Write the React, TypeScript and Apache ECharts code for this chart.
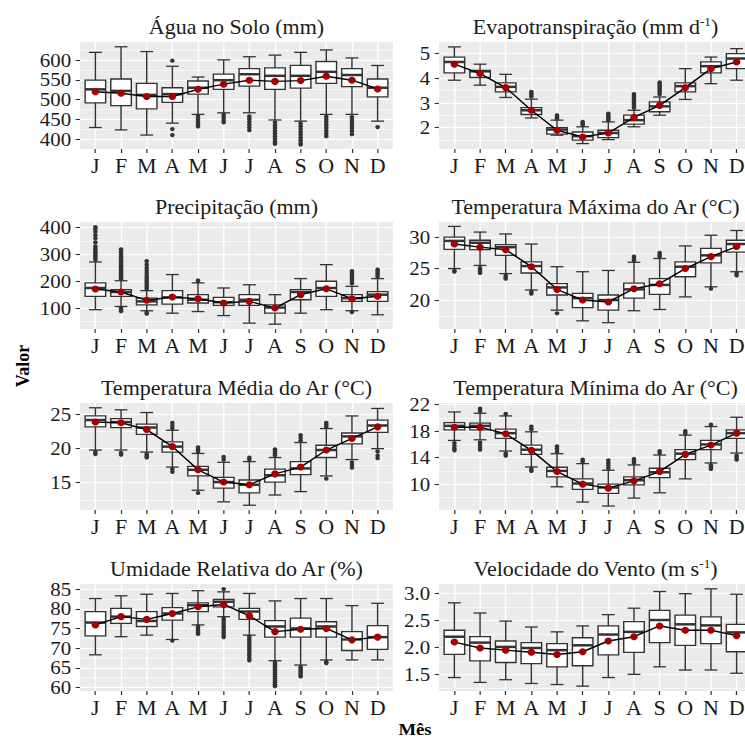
import React, { useEffect, useRef } from "react";
import * as echarts from "echarts";

// ---------- data ----------
const MONTHS = ["J", "F", "M", "A", "M", "J", "J", "A", "S", "O", "N", "D"];
const MONTH_POS = [1, 2, 3, 4, 5, 6, 7, 8, 9, 10, 11, 12];

// each stats row: [lower whisker, Q1, median, Q3, upper whisker]
const aguaStats = [
  [430, 492, 526, 549, 619], [424, 485, 522, 552, 633], [411, 477, 512, 541, 621],
  [441, 493, 514, 530, 584], [463, 514, 530, 547, 557], [467, 526, 549, 564, 600],
  [467, 534, 564, 578, 608], [449, 526, 560, 580, 612], [446, 529, 560, 586, 619],
  [463, 541, 570, 596, 625], [463, 533, 562, 578, 605], [446, 507, 530, 552, 586],
];
const aguaMeans = [520, 516, 508, 508, 526, 539, 549, 546, 548, 559, 549, 527];
const aguaOutliers = [
  [4, 598], [4, 426], [4, 411],
  [5, 459], [5, 452], [5, 445], [5, 439], [5, 433],
  [6, 462], [6, 456], [6, 449], [6, 443],
  [7, 458], [7, 451], [7, 444], [7, 437], [7, 430], [7, 423],
  [8, 443], [8, 436], [8, 429], [8, 422], [8, 415], [8, 408], [8, 401], [8, 394], [8, 389],
  [9, 440], [9, 433], [9, 426], [9, 419], [9, 412], [9, 405], [9, 398], [9, 391], [9, 387],
  [10, 457], [10, 450], [10, 443], [10, 436], [10, 429], [10, 422], [10, 415], [10, 408],
  [11, 456], [11, 449], [11, 442], [11, 435], [11, 428], [11, 421], [11, 413],
  [12, 431],
];
const aguaTicks = [400, 450, 500, 550, 600];
const aguaMinor = [425, 475, 525, 575, 625];

const evapoStats = [
  [3.92, 4.22, 4.66, 4.86, 5.27], [3.72, 4.03, 4.28, 4.32, 4.57], [3.22, 3.45, 3.65, 3.81, 4.16],
  [2.39, 2.53, 2.7, 2.81, 3.15], [1.69, 1.73, 1.92, 2.0, 2.3], [1.35, 1.49, 1.65, 1.82, 2.03],
  [1.51, 1.59, 1.78, 1.89, 2.23], [2.03, 2.14, 2.3, 2.5, 2.7], [2.5, 2.64, 2.86, 3.04, 3.24],
  [3.14, 3.45, 3.68, 3.81, 4.39], [3.78, 4.22, 4.49, 4.66, 4.86], [3.92, 4.39, 4.8, 5.0, 5.2],
];
const evapoMeans = [4.57, 4.19, 3.62, 2.7, 1.89, 1.62, 1.78, 2.41, 2.9, 3.62, 4.39, 4.66];
const evapoOutliers = [
  [4, 3.25], [4, 3.32], [4, 3.39], [4, 3.45],
  [5, 2.37], [5, 2.43], [5, 2.5],
  [6, 2.1], [6, 2.16], [6, 2.23],
  [7, 2.3], [7, 2.37], [7, 2.43], [7, 2.5], [7, 2.57],
  [8, 2.8], [8, 2.88], [8, 2.96], [8, 3.04], [8, 3.12], [8, 3.2], [8, 3.28], [8, 3.36],
  [9, 3.35], [9, 3.43], [9, 3.51], [9, 3.59], [9, 3.67], [9, 3.75], [9, 3.83],
];
const evapoTicks = [2, 3, 4, 5];
const evapoMinor = [1.5, 2.5, 3.5, 4.5];

const precStats = [
  [94, 144, 175, 194, 272], [106, 144, 160, 169, 202], [90, 112, 125, 137, 165],
  [81, 115, 140, 165, 225], [87, 119, 131, 150, 194], [72, 110, 122, 140, 175],
  [44, 110, 131, 150, 187], [40, 81, 102, 112, 150], [81, 131, 160, 169, 210],
  [94, 144, 175, 200, 262], [90, 125, 137, 150, 181], [75, 125, 150, 161, 210],
];
const precMeans = [171, 160, 129, 141, 135, 119, 125, 100, 150, 172, 135, 144];
const precOutliers = [
  [1, 280], [1, 287], [1, 294], [1, 301], [1, 308], [1, 315], [1, 322], [1, 330], [1, 345], [1, 360], [1, 372], [1, 385], [1, 395], [1, 402],
  [2, 208], [2, 214], [2, 220], [2, 226], [2, 232], [2, 238], [2, 244], [2, 250], [2, 256], [2, 262], [2, 268], [2, 274], [2, 280], [2, 290], [2, 300], [2, 310], [2, 319],
  [2, 100], [2, 94], [2, 88],
  [3, 172], [3, 180], [3, 188], [3, 196], [3, 204], [3, 212], [3, 220], [3, 230], [3, 240], [3, 250], [3, 262], [3, 275], [3, 84], [3, 79],
  [5, 200], [5, 203],
  [11, 192], [11, 200], [11, 208], [11, 216], [11, 224], [11, 232], [11, 238], [11, 85],
  [12, 217], [12, 224], [12, 231], [12, 238], [12, 244],
];
const precTicks = [100, 200, 300, 400];
const precMinor = [50, 150, 250, 350];

const tmaxStats = [
  [25.0, 28.05, 29.4, 30.0, 31.7], [25.5, 28.0, 29.1, 29.5, 30.8], [24.2, 27.1, 28.4, 28.8, 30.5],
  [21.6, 24.3, 25.4, 26.05, 28.9], [18.4, 20.8, 22.0, 22.6, 25.3], [16.7, 18.8, 20.3, 21.05, 24.5],
  [16.4, 18.4, 20.0, 20.8, 24.7], [18.3, 20.3, 21.7, 22.7, 26.0], [18.5, 20.9, 22.4, 23.4, 26.6],
  [20.5, 23.7, 25.3, 26.05, 28.6], [22.1, 25.9, 27.1, 28.2, 30.3], [24.5, 27.6, 28.9, 29.5, 31.05],
];
const tmaxMeans = [28.9, 28.4, 28.0, 25.3, 21.7, 20.0, 19.7, 21.8, 22.6, 25.0, 26.9, 28.5];
const tmaxOutliers = [
  [1, 24.7], [1, 24.5], [2, 25.1], [2, 24.8], [2, 24.5], [2, 24.3], [3, 23.9], [3, 23.6], [3, 23.4],
  [4, 21.3], [4, 21.0], [5, 17.9],
  [8, 26.3], [8, 26.6], [8, 26.9], [9, 26.9], [9, 27.2], [9, 27.5],
  [11, 21.8], [12, 24.2], [12, 23.9],
];
const tmaxTicks = [20, 25, 30];
const tmaxMinor = [17.5, 22.5, 27.5];

const tmedStats = [
  [19.8, 23.2, 24.2, 24.8, 26.0], [19.8, 23.1, 23.9, 24.4, 25.7], [19.5, 22.1, 23.1, 23.6, 25.3],
  [17.3, 19.5, 20.3, 21.0, 22.7], [13.9, 16.0, 16.9, 17.4, 19.3], [12.2, 14.2, 15.1, 15.8, 18.0],
  [11.7, 13.5, 14.7, 15.4, 18.1], [13.2, 15.1, 16.1, 17.0, 18.7], [13.7, 16.2, 17.1, 18.1, 20.9],
  [16.0, 18.7, 19.8, 20.5, 22.95], [18.4, 20.7, 21.8, 22.3, 24.8], [20.0, 22.4, 23.4, 24.2, 25.9],
];
const tmedMeans = [23.9, 23.8, 22.8, 20.3, 16.9, 15.1, 14.7, 16.3, 17.3, 19.8, 21.5, 23.2];
const tmedOutliers = [
  [1, 19.5], [1, 19.2], [2, 19.4], [2, 19.1], [3, 19.2], [3, 18.9], [3, 18.7],
  [4, 23.0], [4, 23.4], [4, 23.8], [4, 17.0], [4, 16.6],
  [5, 19.6], [5, 19.9], [5, 20.2], [5, 13.5],
  [6, 18.4], [6, 18.8], [7, 18.4], [7, 18.7],
  [8, 19.0], [8, 19.3], [8, 19.6], [8, 19.9],
  [9, 21.2], [9, 21.6], [9, 22.0],
  [10, 23.2], [10, 23.5], [10, 23.8], [10, 15.6],
  [11, 18.0], [11, 17.6], [11, 17.2],
  [12, 19.6], [12, 19.0], [12, 18.6],
];
const tmedTicks = [15, 20, 25];
const tmedMinor = [12.5, 17.5, 22.5];

const tminStats = [
  [16.6, 18.2, 18.8, 19.3, 20.9], [16.7, 18.2, 18.8, 19.2, 20.7], [15.0, 16.9, 17.7, 18.3, 20.3],
  [12.6, 14.5, 15.2, 15.9, 17.9], [9.6, 11.1, 12.0, 12.55, 14.6], [7.3, 9.2, 10.1, 10.8, 13.1],
  [6.7, 8.6, 9.5, 10.0, 12.1], [7.9, 9.9, 10.6, 11.1, 12.9], [8.7, 11.0, 11.8, 12.4, 14.4],
  [10.8, 13.7, 14.6, 15.2, 17.4], [13.2, 15.2, 16.0, 16.6, 18.7], [14.7, 16.9, 17.7, 18.2, 20.1],
];
const tminMeans = [18.6, 18.6, 17.6, 15.1, 11.9, 10.0, 9.4, 10.5, 11.9, 14.5, 15.9, 17.7];
const tminOutliers = [
  [1, 16.2], [1, 15.8], [1, 15.4], [1, 15.1],
  [2, 21.0], [2, 21.4], [2, 16.3], [2, 15.9], [2, 15.5], [2, 15.2],
  [3, 20.6], [3, 14.6], [3, 14.3],
  [4, 18.3], [4, 18.7], [4, 12.3], [4, 12.0],
  [5, 14.9], [5, 15.3], [5, 15.7],
  [6, 13.4], [6, 13.7],
  [7, 12.4], [7, 12.8], [7, 13.2], [7, 13.6],
  [8, 13.2], [8, 13.5], [8, 13.8],
  [9, 14.7], [9, 15.0],
  [10, 17.7], [10, 18.0],
  [11, 19.0], [11, 12.9], [11, 12.6], [11, 12.3],
  [12, 14.3], [12, 14.0], [12, 13.7],
];
const tminTicks = [10, 14, 18, 22];
const tminMinor = [8, 12, 16, 20];

const umidStats = [
  [68.3, 73.1, 76.5, 79.3, 82.6], [72.9, 76.3, 78.0, 80.1, 83.3], [73.3, 75.5, 76.9, 79.3, 83.7],
  [72.2, 77.1, 78.8, 80.3, 83.9], [75.9, 79.3, 80.9, 81.5, 84.6], [78.0, 80.5, 81.8, 82.4, 84.3],
  [73.3, 77.3, 79.3, 80.1, 83.9], [66.8, 72.8, 75.5, 77.0, 82.0], [65.7, 72.8, 75.0, 77.6, 82.6],
  [67.0, 72.8, 75.5, 76.7, 82.6], [67.0, 69.4, 72.2, 74.2, 80.8], [67.0, 69.7, 72.8, 75.7, 81.4],
];
const umidMeans = [75.9, 78.0, 77.3, 78.8, 80.5, 81.1, 78.2, 74.2, 74.8, 75.0, 72.1, 72.8];
const umidOutliers = [
  [4, 71.9],
  [5, 75.5], [5, 75.0], [5, 74.5], [5, 74.0], [5, 73.6],
  [6, 85.0], [6, 77.6], [6, 77.0], [6, 76.4], [6, 75.8], [6, 75.2], [6, 74.6], [6, 74.0], [6, 73.4], [6, 72.8],
  [7, 72.9], [7, 72.3], [7, 71.7], [7, 71.1], [7, 70.5], [7, 69.9], [7, 69.3], [7, 68.7], [7, 68.1], [7, 67.5], [7, 66.9],
  [8, 66.3], [8, 65.8], [8, 65.3], [8, 64.8], [8, 64.3], [8, 63.8], [8, 63.3], [8, 62.8], [8, 62.3], [8, 61.8], [8, 61.3], [8, 60.8], [8, 60.3],
  [9, 65.2], [9, 64.7], [9, 64.2], [9, 63.7], [9, 63.2], [9, 62.8],
  [10, 66.5], [10, 66.2],
];
const umidTicks = [60, 65, 70, 75, 80, 85];
const umidMinor = [62.5, 67.5, 72.5, 77.5, 82.5];

const ventoStats = [
  [1.44, 1.87, 2.2, 2.32, 2.83], [1.35, 1.75, 2.09, 2.2, 2.64], [1.4, 1.72, 2.01, 2.12, 2.49],
  [1.33, 1.7, 1.99, 2.09, 2.38], [1.31, 1.64, 1.95, 2.07, 2.29], [1.28, 1.66, 2.04, 2.18, 2.4],
  [1.44, 1.86, 2.24, 2.4, 2.61], [1.5, 1.91, 2.29, 2.48, 2.73], [1.64, 2.09, 2.51, 2.69, 3.04],
  [1.58, 2.04, 2.43, 2.6, 3.0], [1.58, 2.07, 2.41, 2.57, 3.09], [1.52, 1.92, 2.28, 2.43, 2.99],
];
const ventoMeans = [2.1, 1.99, 1.95, 1.91, 1.87, 1.92, 2.12, 2.2, 2.4, 2.32, 2.32, 2.22];
const ventoOutliers: number[][] = [];
const ventoTicks = [1.5, 2.0, 2.5, 3.0];
const ventoMinor = [1.25, 1.75, 2.25, 2.75];

const PANELS = [
  { title: "Água no Solo (mm)", stats: aguaStats, means: aguaMeans, out: aguaOutliers, ticks: aguaTicks, minor: aguaMinor, min: 376, max: 645, dec: 0 },
  { title: "Evapotranspiração (mm d{sup|-1})", stats: evapoStats, means: evapoMeans, out: evapoOutliers, ticks: evapoTicks, minor: evapoMinor, min: 1.13, max: 5.47, dec: 0 },
  { title: "Precipitação (mm)", stats: precStats, means: precMeans, out: precOutliers, ticks: precTicks, minor: precMinor, min: 22, max: 421, dec: 0 },
  { title: "Temperatura Máxima do Ar (°C)", stats: tmaxStats, means: tmaxMeans, out: tmaxOutliers, ticks: tmaxTicks, minor: tmaxMinor, min: 15.4, max: 32.4, dec: 0 },
  { title: "Temperatura Média do Ar (°C)", stats: tmedStats, means: tmedMeans, out: tmedOutliers, ticks: tmedTicks, minor: tmedMinor, min: 11.0, max: 26.7, dec: 0 },
  { title: "Temperatura Mínima do Ar (°C)", stats: tminStats, means: tminMeans, out: tminOutliers, ticks: tminTicks, minor: tminMinor, min: 6.1, max: 22.25, dec: 0 },
  { title: "Umidade Relativa do Ar (%)", stats: umidStats, means: umidMeans, out: umidOutliers, ticks: umidTicks, minor: umidMinor, min: 59.1, max: 86.3, dec: 0 },
  { title: "Velocidade do Vento (m s{sup|-1})", stats: ventoStats, means: ventoMeans, out: ventoOutliers, ticks: ventoTicks, minor: ventoMinor, min: 1.19, max: 3.18, dec: 1 },
];

// ---------- layout (display px) ----------
const SX = 1.1; // horizontal stretch of the original figure
const DISPLAY_W = 760;
const CHART_W = DISPLAY_W / SX;
const CHART_H = 740;
const COL_X = [80, 439];
const PANEL_W = 313;
const ROW_Y = [42, 222, 403, 584];
const PANEL_H = 107;
const FONT = "Liberation Serif";
const INK = "#333333";
const BOX_W = 0.8;
const CAP_W = 0.5;

function buildOption() {
  const grids: any[] = [];
  const xAxes: any[] = [];
  const yAxes: any[] = [];
  const series: any[] = [];
  const graphics: any[] = [];

  PANELS.forEach((p, i) => {
    const col = i % 2;
    const row = Math.floor(i / 2);
    const left = COL_X[col] / SX;
    const top = ROW_Y[row];
    grids.push({
      left, top, width: PANEL_W / SX, height: PANEL_H,
      show: true, backgroundColor: "#EBEBEB", borderWidth: 0,
      outerBoundsMode: "none", containLabel: false,
    });
    xAxes.push({
      type: "value", gridIndex: i, min: 0.4, max: 12.6,
      axisLine: { show: false },
      axisTick: { show: true, length: 4, customValues: MONTH_POS, lineStyle: { color: INK, width: 1.1 } },
      axisLabel: {
        customValues: MONTH_POS, margin: 7,
        formatter: (v: number) => "{s|" + MONTHS[Math.round(v) - 1] + "}",
        fontFamily: FONT, fontSize: 20, color: "#1A1A1A",
        rich: { s: { fontFamily: FONT, fontSize: 20, color: "#1A1A1A" } },
      },
      splitLine: { show: true, lineStyle: { color: "#FFFFFF", width: 1.2 } },
    });
    yAxes.push({
      type: "value", gridIndex: i, min: p.min, max: p.max, position: "left",
      axisLine: { show: false },
      axisTick: { show: true, length: 4, customValues: p.ticks, lineStyle: { color: INK, width: 1.1 } },
      axisLabel: {
        customValues: p.ticks, margin: 8,
        formatter: (v: number) => "{s|" + v.toFixed(p.dec) + "}",
        fontFamily: FONT, fontSize: 19, color: "#1A1A1A",
        rich: { s: { fontFamily: FONT, fontSize: 19, color: "#1A1A1A" } },
      },
      splitLine: { show: true, lineStyle: { color: "#FFFFFF", width: 1.2 } },
    });
    yAxes.push({
      type: "value", gridIndex: i, min: p.min, max: p.max, position: "left",
      axisLine: { show: false },
      axisTick: { show: false, customValues: p.minor },
      axisLabel: { show: false, customValues: p.minor },
      splitLine: { show: true, lineStyle: { color: "#FFFFFF", width: 0.6 } },
    });

    const xi = i;
    const yi = 2 * i;
    series.push({
      type: "custom", xAxisIndex: xi, yAxisIndex: yi, z: 2, silent: true,
      data: p.stats.map((s, k) => [MONTH_POS[k], ...s]),
      encode: { x: 0, y: [1, 2, 3, 4, 5] },
      renderItem: (params: any, api: any) => {
        const x = api.value(0);
        const pLw = api.coord([x, api.value(1)]);
        const pQ1 = api.coord([x, api.value(2)]);
        const pMed = api.coord([x, api.value(3)]);
        const pQ3 = api.coord([x, api.value(4)]);
        const pUw = api.coord([x, api.value(5)]);
        const bw = api.size([BOX_W, 0])[0];
        const cw = api.size([CAP_W, 0])[0];
        const cx = pLw[0];
        const st = { stroke: INK, lineWidth: 1.3 };
        return {
          type: "group",
          children: [
            { type: "line", shape: { x1: cx, y1: pUw[1], x2: cx, y2: pLw[1] }, style: st },
            { type: "line", shape: { x1: cx - cw / 2, y1: pUw[1], x2: cx + cw / 2, y2: pUw[1] }, style: st },
            { type: "line", shape: { x1: cx - cw / 2, y1: pLw[1], x2: cx + cw / 2, y2: pLw[1] }, style: st },
            { type: "rect", shape: { x: cx - bw / 2, y: pQ3[1], width: bw, height: pQ1[1] - pQ3[1] }, style: { fill: "#FFFFFF", stroke: INK, lineWidth: 1.3 } },
            { type: "line", shape: { x1: cx - bw / 2, y1: pMed[1], x2: cx + bw / 2, y2: pMed[1] }, style: { stroke: INK, lineWidth: 2.5 } },
          ],
        };
      },
    });
    series.push({
      type: "scatter", xAxisIndex: xi, yAxisIndex: yi, z: 3, silent: true,
      data: p.out, symbol: "circle", symbolSize: 4.2,
      itemStyle: { color: INK, opacity: 1 },
    });
    series.push({
      type: "line", xAxisIndex: xi, yAxisIndex: yi, z: 4, silent: true,
      data: p.means.map((m, k) => [MONTH_POS[k], m]),
      showSymbol: false, symbol: "none",
      lineStyle: { color: "#000000", width: 1.4 },
    });
    series.push({
      type: "scatter", xAxisIndex: xi, yAxisIndex: yi, z: 5, silent: true,
      data: p.means.map((m, k) => [MONTH_POS[k], m]),
      symbol: "circle", symbolSize: 7,
      itemStyle: { color: "#A80000", opacity: 1 },
    });

    graphics.push({
      type: "text",
      x: (COL_X[col] + PANEL_W / 2) / SX,
      y: top - 15,
      silent: true,
      style: {
        text: p.title,
        fontFamily: FONT, fontSize: 20, fill: "#1A1A1A",
        align: "center", verticalAlign: "middle", lineHeight: 22,
        rich: { sup: { fontFamily: FONT, fontSize: 12, fill: "#1A1A1A", verticalAlign: "top", lineHeight: 13 } },
      },
    });
  });

  graphics.push({
    type: "text", x: 22 / SX, y: 366, rotation: Math.PI / 2, silent: true,
    style: { text: "Valor", fontFamily: FONT, fontSize: 18, fontWeight: "bold", fill: "#000", align: "center", verticalAlign: "middle" },
  });
  graphics.push({
    type: "text", x: 415 / SX, y: 729, silent: true,
    style: { text: "Mês", fontFamily: FONT, fontSize: 17, fontWeight: "bold", fill: "#000", align: "center", verticalAlign: "middle" },
  });

  return {
    animation: false,
    backgroundColor: "#FFFFFF",
    textStyle: { fontFamily: FONT },
    grid: grids,
    xAxis: xAxes,
    yAxis: yAxes,
    series,
    graphic: { elements: graphics },
  };
}

export default function App() {
  const ref = useRef<HTMLDivElement>(null);
  useEffect(() => {
    if (!ref.current) return;
    const chart = echarts.init(ref.current, null, { renderer: "svg" });
    chart.setOption(buildOption() as any);
    return () => chart.dispose();
  }, []);
  return (
    <div style={{ position: "fixed", left: 0, top: 0, width: 745, height: 740, overflow: "hidden", background: "#fff" }}>
      <div
        ref={ref}
        style={{ width: CHART_W, height: CHART_H, transform: `scaleX(${SX})`, transformOrigin: "0 0" }}
      />
    </div>
  );
}
